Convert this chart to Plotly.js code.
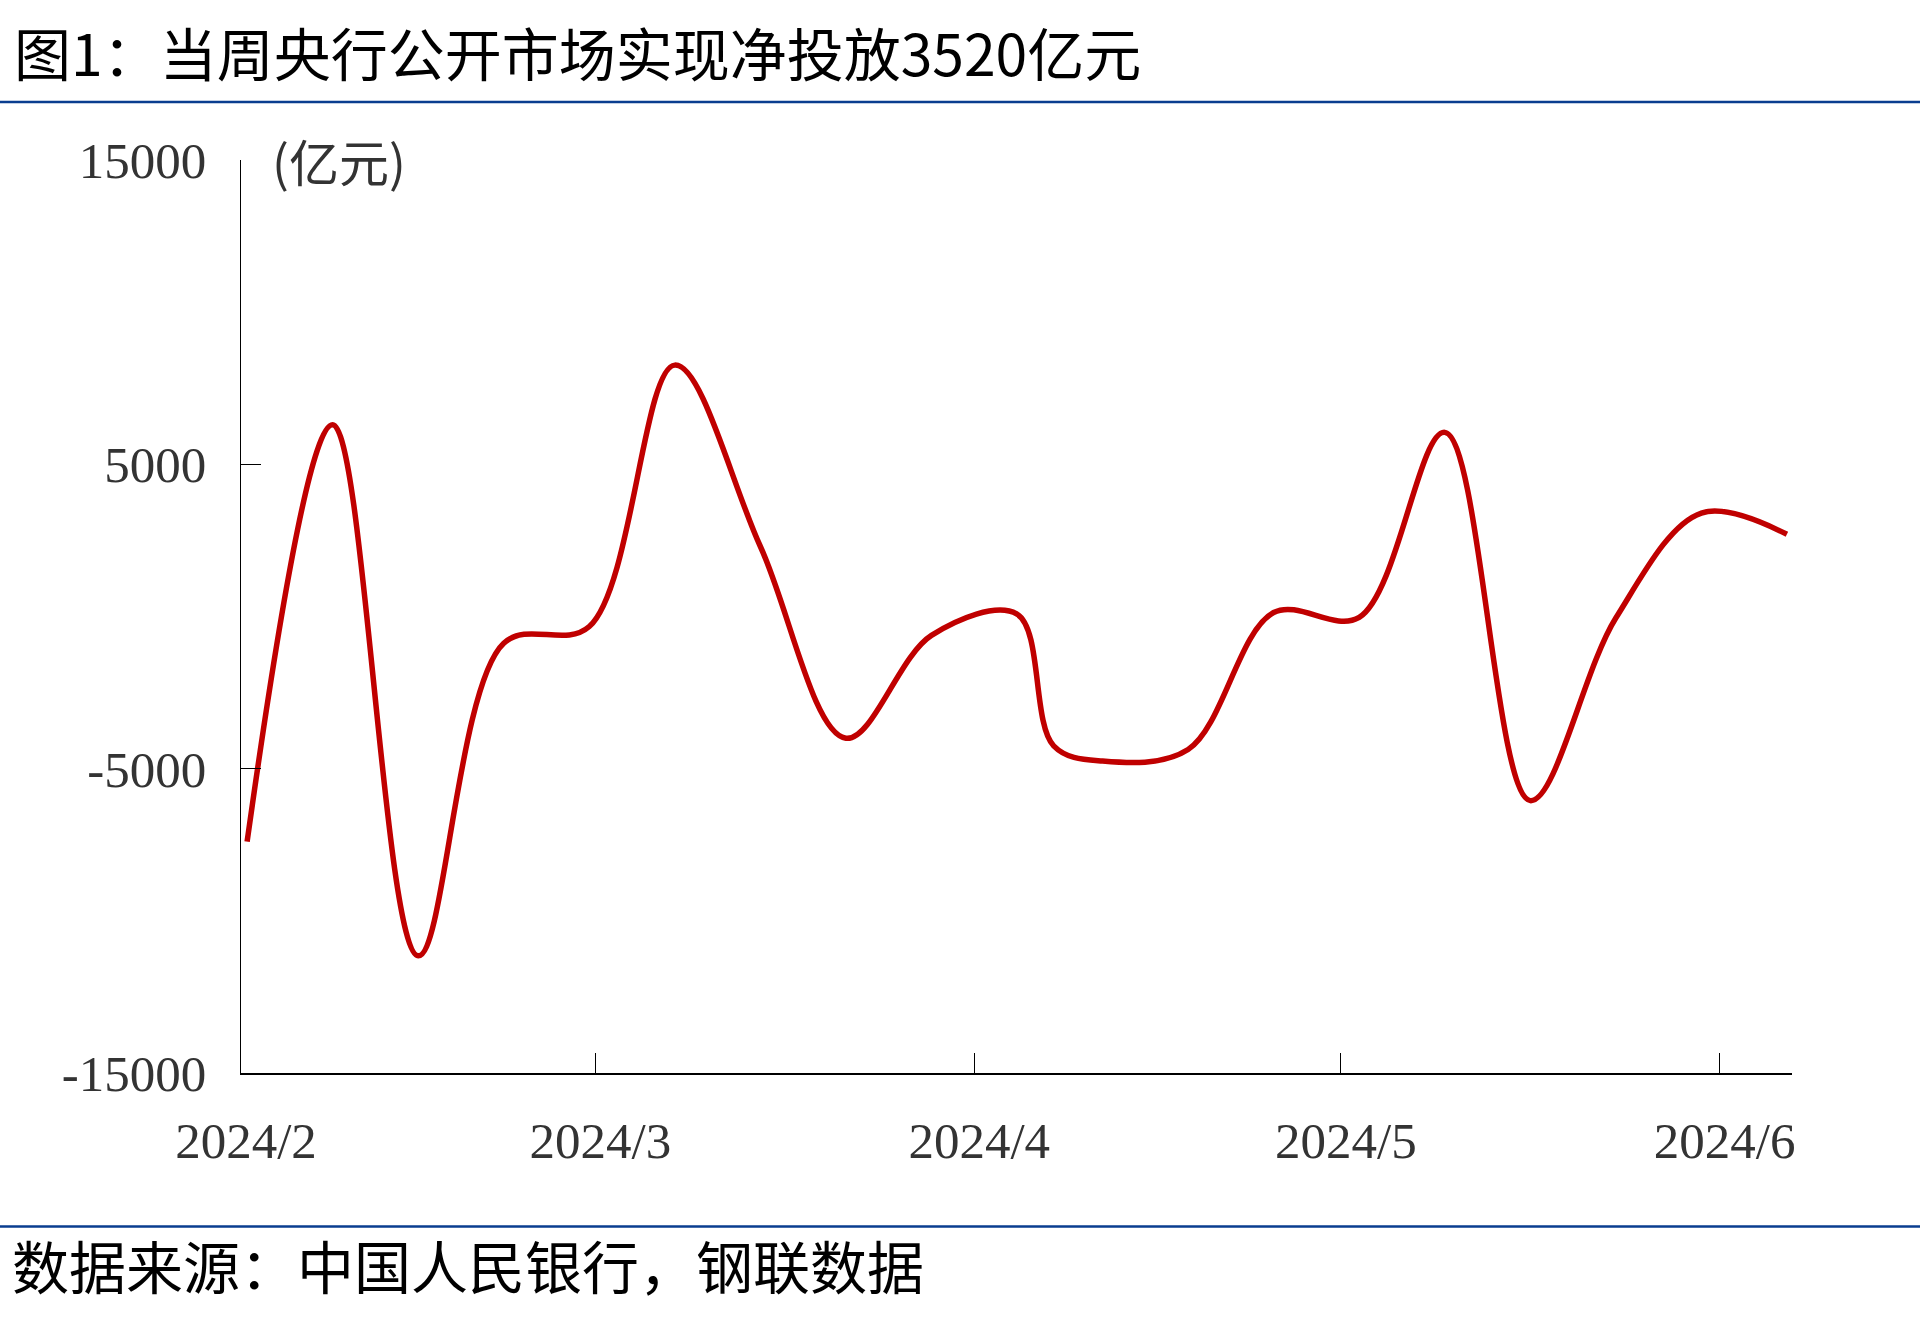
<!DOCTYPE html>
<html>
<head>
<meta charset="utf-8">
<script src="https://cdn.plot.ly/plotly-3.0.1.min.js"></script>
<style>
html,body{margin:0;padding:0;background:#fff;}
#chart{width:1920px;height:1331px;}
</style>
</head>
<body>
<div id="chart"></div>
<script>
// Weekly dates
const weekDates = ['2024-02-02','2024-02-09','2024-02-16','2024-02-23','2024-03-01','2024-03-08','2024-03-15','2024-03-22','2024-03-29','2024-04-05','2024-04-08','2024-04-12','2024-04-19','2024-04-26','2024-05-03','2024-05-10','2024-05-17','2024-05-24','2024-05-31','2024-06-07'];
// Net injection (亿元)
const netInjection = [-7400, 6300, -11150, -880, -330, 8260, 2300, -4000, -620, 80, -4250, -4750, -4370, 130, -30, 6050, -6050, -50, 3400, 2700];
// Axis ticks (month starts; the chart places each month tick half a day before the dated points)
const xTickVals = ['2024-02-01 12:00','2024-03-01 12:00','2024-04-01 12:00','2024-05-01 12:00','2024-06-01 12:00'];
const xTickText = ['2024/2','2024/3','2024/4','2024/5','2024/6'];
const xRange = ['2024-02-01 12:00', '2024-06-07 10:00'];
const yTickVals = [-15000, -5000, 5000, 15000];
const yTickText = ['-15000','-5000','5000','15000'];
const yRange = [-15000, 15000];
const titleText = '图1：当周央行公开市场实现净投放3520亿元';
const unitText = '(亿元)';
const sourceText = '数据来源：中国人民银行，钢联数据';

const W = 1920, H = 1331;
const L = 241, R = 128, T = 160, B = 258;
const pw = W - L - R, ph = H - T - B;
const px = v => (v - L) / pw;
const py = v => (H - B - v) / ph;

const trace = {
  x: weekDates,
  y: netInjection,
  type: 'scatter',
  mode: 'lines',
  line: {color: '#C00000', width: 5.5, shape: 'spline', smoothing: 1},
  hoverinfo: 'x+y'
};

const cjk = '"Noto Sans CJK SC", "Noto Sans", sans-serif';
const serif = '"Liberation Serif", "Times New Roman", serif';

const layout = {
  width: W, height: H,
  margin: {l: L, r: R, t: T, b: B},
  paper_bgcolor: '#fff', plot_bgcolor: '#fff',
  showlegend: false,
  xaxis: {
    type: 'date',
    range: xRange,
    tickmode: 'array', tickvals: xTickVals, ticktext: xTickText,
    ticks: 'inside', ticklen: 20, tickwidth: 1.2, tickcolor: '#000',
    showline: true, linecolor: '#000', linewidth: 2,
    showgrid: false, zeroline: false,
    tickfont: {family: serif, size: 51, color: '#333'},
    ticklabelstandoff: 22,
    ticklabelshift: 5
  },
  yaxis: {
    range: yRange,
    tickmode: 'array', tickvals: yTickVals, ticktext: yTickText,
    ticks: 'inside', ticklen: 20, tickwidth: 1.2, tickcolor: '#000',
    showline: true, linecolor: '#000', linewidth: 1.5,
    showgrid: false, zeroline: false,
    tickfont: {family: serif, size: 51, color: '#333'},
    ticklabelstandoff: 23
  },
  shapes: [
    {type: 'line', xref: 'paper', yref: 'paper', x0: px(0), x1: px(1920), y0: py(102), y1: py(102),
     line: {color: '#0a3d8f', width: 2.5}},
    {type: 'line', xref: 'paper', yref: 'paper', x0: px(0), x1: px(1920), y0: py(1226.5), y1: py(1226.5),
     line: {color: '#0a3d8f', width: 2.5}}
  ],
  annotations: [
    {text: titleText, xref: 'paper', yref: 'paper', x: px(12), y: py(51), xanchor: 'left', yanchor: 'middle',
     showarrow: false, font: {family: cjk, size: 57, color: '#000'}},
    {text: unitText, xref: 'paper', yref: 'y', x: px(270), y: 15000, xanchor: 'left', yanchor: 'middle',
     showarrow: false, font: {family: cjk, size: 50, color: '#333'}},
    {text: sourceText, xref: 'paper', yref: 'paper', x: px(10), y: py(1264), xanchor: 'left', yanchor: 'middle',
     showarrow: false, font: {family: cjk, size: 57, color: '#000'}}
  ]
};

Plotly.newPlot('chart', [trace], layout, {displayModeBar: false, staticPlot: true});
</script>
</body>
</html>
